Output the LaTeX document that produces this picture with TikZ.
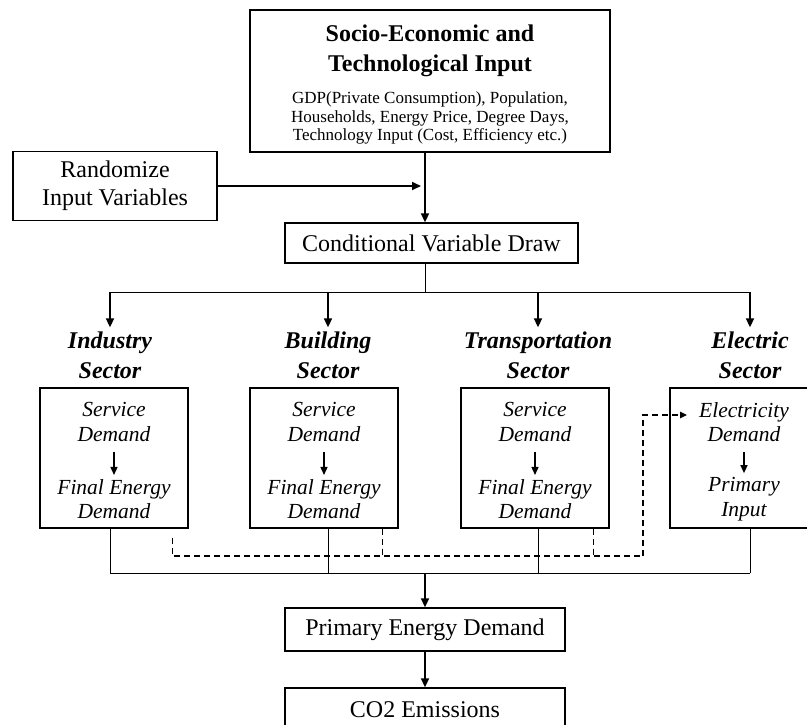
\documentclass[tikz,border=0pt]{standalone}
\usepackage{fontspec}
\setmainfont{Liberation Serif}
\usetikzlibrary{arrows.meta,positioning}

\begin{document}
\begin{tikzpicture}[x=1pt,y=-1pt,
  box/.style={draw,line width=1.3pt,inner sep=0pt,align=center},
  bigtext/.style={font=\fontsize{24}{28}\selectfont},
  sechead/.style={align=center,inner sep=0pt,font=\fontsize{24}{30}\selectfont\bfseries\itshape},
  intext/.style={align=center,inner sep=0pt,font=\fontsize{21.5}{24.5}\selectfont\itshape},
  arr/.style={line width=1.6pt,-{Triangle[length=9pt,width=8pt]}},
  smallarr/.style={line width=1.4pt,-{Triangle[length=8pt,width=7pt]}},
  wire/.style={line width=1pt},
  dashline/.style={line width=1.3pt,dash pattern=on 6pt off 4pt}]

\clip (0,0) rectangle (807,724);

\coordinate (spine) at (425,0);

% inputs
\node [box,minimum width=360pt,minimum height=142pt] (input) at (430,81) {};
\node [align=center,inner sep=0pt,font=\fontsize{24}{30}\selectfont\bfseries] (title) at (430,51)
   {Socio-Economic and\\Technological Input};
\node [align=center,inner sep=0pt,font=\fontsize{17}{18.8}\selectfont] (vars) at (430,118)
   {GDP(Private Consumption), Population,\\Households, Energy Price, Degree Days,\\Technology Input (Cost, Efficiency etc.)};

\node [box,bigtext,minimum width=204pt,minimum height=69pt] (rand) at (115,186) {Randomize\\Input Variables};
\node [box,bigtext,minimum width=293pt,minimum height=40pt] (cond) at (431.5,243) {Conditional Variable Draw};

\draw [arr] (input.south -| spine) -- (cond.north -| spine);
\draw [arr,shorten >=4pt] (rand.east) -- (rand.east -| spine);

% sectors
\coordinate (bus) at (425,292);
\coordinate (low) at (425,573);
\foreach \n/\bx/\ax/\head/\up/\lo in {
   ind/114/110/{Industry\\Sector}/{Service\\Demand}/{Final Energy\\Demand},
   bld/324/328/{Building\\Sector}/{Service\\Demand}/{Final Energy\\Demand},
   trn/535/538/{Transportation\\Sector}/{Service\\Demand}/{Final Energy\\Demand},
   ele/744/750/{Electric\\Sector}/{Electricity\\Demand}/{Primary\\Input}} {
   \coordinate (\n-top) at (\ax,292);
   \node [sechead] (\n-h) at (\ax,355) {\head};
   \node [box,minimum width=148pt,minimum height=140pt] (\n) at (\bx,458) {};
   \node [intext] (\n-s) at (\bx,422) {\up};
   \node [intext] (\n-f) at (\bx,499) {\lo};
   \draw [smallarr,shorten <=10pt,shorten >=4pt] (\n-s) -- (\n-f);
   \draw [arr,shorten >=4pt] (\n-top) -- (\n-top |- \n-h.north);
   \draw [wire] (\n-top |- \n.south) -- (\n-top |- low);
}
\draw [wire] (cond.south -| spine) -- (bus);
\draw [wire] (ind-top) -- (ele-top);
\draw [wire] (ind-top |- low) -- (ele-top |- low);

% electricity use
\coordinate (dbus) at (643,556);
\coordinate (ele-in) at (687,415);
\draw [dashline] ([xshift=-16pt]ind.south east) ++(0,9) |- (dbus);
\foreach \n in {bld,trn}
   \draw [dashline] ([xshift=-16pt]\n.south east) -- ([xshift=-16pt]\n.south east |- dbus);
\draw [dashline,-{Triangle[length=7pt,width=6.5pt]}] (dbus) |- (ele-in);

% outputs
\node [box,bigtext,minimum width=280pt,minimum height=43pt] (prim) at (425,629.5) {Primary Energy Demand};
\node [box,bigtext,minimum width=280pt,minimum height=44pt] (co2) at (425,710) {CO2 Emissions};

\draw [arr] (low) -- (prim.north -| spine);
\draw [arr] (prim.south -| spine) -- (co2.north -| spine);

\end{tikzpicture}
\end{document}
